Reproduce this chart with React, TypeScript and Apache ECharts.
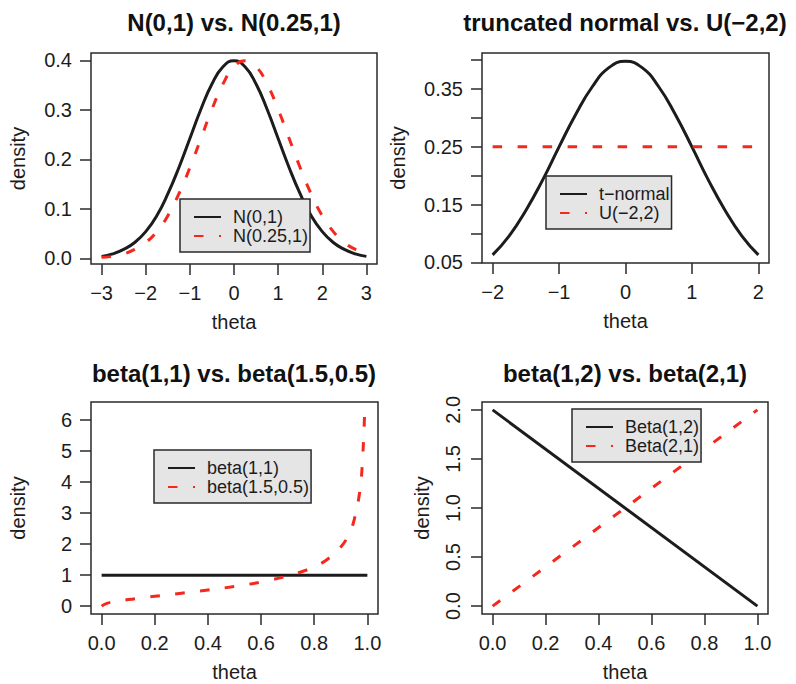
import React, { useEffect, useRef } from "react";
import * as echarts from "echarts";

// ---- N(0,1) vs N(0.25,1) ----
const normTheta = [-3, -2.75, -2.5, -2.25, -2, -1.75, -1.5, -1.25, -1, -0.75, -0.5, -0.25, 0, 0.25, 0.5, 0.75, 1, 1.25, 1.5, 1.75, 2, 2.25, 2.5, 2.75, 3];
const densN01 = [0.004, 0.009, 0.018, 0.032, 0.054, 0.086, 0.13, 0.183, 0.242, 0.301, 0.352, 0.387, 0.399, 0.387, 0.352, 0.301, 0.242, 0.183, 0.13, 0.086, 0.054, 0.032, 0.018, 0.009, 0.004];
const densN025 = [0.002, 0.004, 0.009, 0.018, 0.032, 0.054, 0.086, 0.13, 0.183, 0.242, 0.301, 0.352, 0.387, 0.399, 0.387, 0.352, 0.301, 0.242, 0.183, 0.13, 0.086, 0.054, 0.032, 0.018, 0.009];

// ---- truncated normal vs U(-2,2) ----
const tnTheta = [-2, -1.75, -1.5, -1.25, -1, -0.75, -0.5, -0.25, 0, 0.25, 0.5, 0.75, 1, 1.25, 1.5, 1.75, 2];
const densTNormal = [0.063, 0.096, 0.14, 0.192, 0.25, 0.306, 0.354, 0.387, 0.398, 0.387, 0.354, 0.306, 0.25, 0.192, 0.14, 0.096, 0.063];
const unifTheta = [-2, 2];
const densUnif = [0.25, 0.25];

// ---- beta(1,1) vs beta(1.5,0.5) ----
const flatTheta = [0, 1];
const densBeta11 = [1, 1];
const skewTheta = [0, 0.02, 0.05, 0.1, 0.15, 0.2, 0.3, 0.4, 0.5, 0.6, 0.7, 0.75, 0.8, 0.85, 0.9, 0.93, 0.95, 0.97, 0.98, 0.99];
const densBeta1505 = [0, 0.091, 0.146, 0.212, 0.267, 0.318, 0.417, 0.52, 0.637, 0.78, 0.972, 1.103, 1.273, 1.515, 1.91, 2.32, 2.775, 3.62, 4.456, 6.334];

// ---- beta(1,2) vs beta(2,1) ----
const lineTheta = [0, 1];
const densBeta12 = [2, 0];
const densBeta21 = [0, 2];

// ---- tick positions ----
const ticksX1 = [-3, -2, -1, 0, 1, 2, 3];
const ticksY1 = [0, 0.1, 0.2, 0.3, 0.4];
const ticksX2 = [-2, -1, 0, 1, 2];
const ticksY2 = [0.05, 0.1, 0.15, 0.2, 0.25, 0.3, 0.35, 0.4];
const labelsY2 = [0.05, 0.15, 0.25, 0.35];
const ticksUnit = [0, 0.2, 0.4, 0.6, 0.8, 1];
const ticksY3 = [0, 1, 2, 3, 4, 5, 6];
const ticksY4 = [0, 0.5, 1, 1.5, 2];

const FONT = '"Liberation Sans", Arial, Helvetica, sans-serif';
const INK = "#1c1c1c";
const RED = "#f5281e";
const DASH = [9.5, 15.5];

const pairs = (xs: number[], ys: number[]) => xs.map((x, i) => [x, ys[i]]);
const signed = (v: number) => (v < 0 ? "\u2212" + Math.abs(v) : String(v));

export default function App() {
  const ref = useRef<HTMLDivElement>(null);

  useEffect(() => {
    if (!ref.current) return;
    const chart = echarts.init(ref.current, null, { renderer: "svg" });

    const grids = [
      { left: 91, top: 53, width: 286, height: 211 },
      { left: 482, top: 53, width: 287, height: 210 },
      { left: 91, top: 402, width: 287, height: 212 },
      { left: 482, top: 402, width: 286, height: 212 },
    ].map((g) => ({ ...g, show: true, borderColor: "#2a2a2a", borderWidth: 1.5, backgroundColor: "transparent" }));

    const xAxis = (
      gridIndex: number,
      min: number,
      max: number,
      ticks: number[],
      fmt: (v: number) => string
    ) => ({
      type: "value",
      gridIndex,
      position: "bottom",
      min,
      max,
      axisLine: { show: false, onZero: false },
      splitLine: { show: false },
      axisTick: { show: true, length: 11, customValues: ticks, lineStyle: { color: "#2a2a2a", width: 1.5 } },
      axisLabel: { customValues: ticks, formatter: fmt, margin: 19, fontSize: 20, fontFamily: FONT, color: INK },
      name: "theta",
      nameLocation: "middle",
      nameGap: 48,
      nameTextStyle: { fontSize: 20, fontFamily: FONT, color: INK },
    });

    const yAxis = (
      gridIndex: number,
      min: number,
      max: number,
      ticks: number[],
      labels: number[],
      fmt: (v: number) => string,
      nameGap: number,
      rotate = 0
    ) => ({
      type: "value",
      gridIndex,
      position: "left",
      min,
      max,
      axisLine: { show: false, onZero: false },
      splitLine: { show: false },
      axisTick: { show: true, length: 11, customValues: ticks, lineStyle: { color: "#2a2a2a", width: 1.5 } },
      axisLabel: { customValues: labels, formatter: fmt, margin: 19, rotate, fontSize: 20, fontFamily: FONT, color: INK },
      name: "density",
      nameLocation: "middle",
      nameGap,
      nameTextStyle: { fontSize: 20, fontFamily: FONT, color: INK },
    });

    const solid = (name: string, idx: number, data: number[][], smooth = true) => ({
      name,
      type: "line",
      xAxisIndex: idx,
      yAxisIndex: idx,
      data,
      smooth,
      symbol: "none",
      lineStyle: { color: INK, width: 3 },
      itemStyle: { color: INK },
    });
    const dashed = (name: string, idx: number, data: number[][], smooth = true) => ({
      name,
      type: "line",
      xAxisIndex: idx,
      yAxisIndex: idx,
      data,
      smooth,
      symbol: "none",
      lineStyle: { color: RED, width: 3, type: DASH },
      itemStyle: { color: RED },
    });

    const legend = (left: number, top: number, names: string[]) => ({
      left,
      top,
      orient: "vertical",
      data: names,
      selectedMode: false,
      itemWidth: 27,
      itemHeight: 14,
      itemGap: 1,
      padding: [9, 2, 7, 13],
      backgroundColor: "#e5e5e5",
      borderColor: "#2a2a2a",
      borderWidth: 1.5,
      borderRadius: 0,
      // line samples only, no marker in the middle
      itemStyle: { color: "transparent", borderColor: "transparent", borderWidth: 0, opacity: 0 },
      textStyle: { fontSize: 18, lineHeight: 18, fontFamily: FONT, color: INK, padding: [0, 0, 0, 7] },
    });

    const title = (text: string, left: number, top: number) => ({
      text,
      left,
      top,
      textAlign: "center",
      padding: 0,
      textStyle: { fontSize: 24, fontWeight: "bold", fontFamily: FONT, color: "#111" },
    });

    chart.setOption({
      animation: false,
      backgroundColor: "#ffffff",
      title: [
        title("N(0,1) vs. N(0.25,1)", 234, 10),
        title("truncated normal vs. U(\u22122,2)", 625, 10),
        title("beta(1,1) vs. beta(1.5,0.5)", 234, 361),
        title("beta(1,2) vs. beta(2,1)", 625, 361),
      ],
      grid: grids,
      xAxis: [
        xAxis(0, -3.24, 3.24, ticksX1, signed),
        xAxis(1, -2.16, 2.16, ticksX2, signed),
        xAxis(2, -0.04, 1.04, ticksUnit, (v) => v.toFixed(1)),
        xAxis(3, -0.04, 1.04, ticksUnit, (v) => v.toFixed(1)),
      ],
      yAxis: [
        yAxis(0, -0.0114, 0.4147, ticksY1, ticksY1, (v) => v.toFixed(1), 63),
        yAxis(1, 0.049, 0.4124, ticksY2, labelsY2, (v) => v.toFixed(2), 74),
        yAxis(2, -0.2532, 6.587, ticksY3, ticksY3, (v) => String(v), 63),
        yAxis(3, -0.08, 2.08, ticksY4, ticksY4, (v) => v.toFixed(1), 50, 90),
      ],
      legend: [
        legend(180, 199, ["N(0,1)", "N(0.25,1)"]),
        legend(546, 176, ["t\u2212normal", "U(\u22122,2)"]),
        legend(154, 450, ["beta(1,1)", "beta(1.5,0.5)"]),
        legend(572, 409, ["Beta(1,2)", "Beta(2,1)"]),
      ],
      series: [
        solid("N(0,1)", 0, pairs(normTheta, densN01)),
        dashed("N(0.25,1)", 0, pairs(normTheta, densN025)),
        solid("t\u2212normal", 1, pairs(tnTheta, densTNormal)),
        dashed("U(\u22122,2)", 1, pairs(unifTheta, densUnif), false),
        solid("beta(1,1)", 2, pairs(flatTheta, densBeta11), false),
        dashed("beta(1.5,0.5)", 2, pairs(skewTheta, densBeta1505)),
        solid("Beta(1,2)", 3, pairs(lineTheta, densBeta12), false),
        dashed("Beta(2,1)", 3, pairs(lineTheta, densBeta21), false),
      ],
    });

    return () => chart.dispose();
  }, []);

  return (
    <div
      ref={ref}
      style={{ position: "absolute", left: 0, top: 0, width: 796, height: 684, background: "#fff" }}
    />
  );
}
